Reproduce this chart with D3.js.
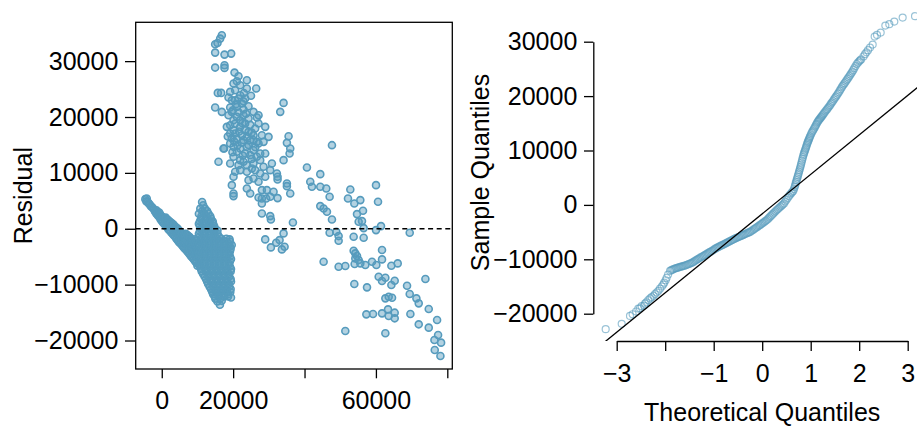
<!DOCTYPE html>
<html><head><meta charset="utf-8">
<script src="https://cdn.jsdelivr.net/npm/d3@7"></script>
<style>
body{margin:0;background:#fff}
svg text{font-family:"Liberation Sans",Arial,Helvetica,sans-serif}
</style></head><body>
<svg id="chart" width="917" height="428"></svg>
<script>
// ---------- DATA ----------
// Residual plot: [fitted value, residual]
const blobPoints = [
[-4600,5300],[-4300,4900],[-4200,5400],[-3600,4500],[-3000,4000],[-2200,3500],[-1500,2700],[-1500,3300],[-700,2100],[-700,2900],
[0,1400],[0,2200],[700,900],[700,1800],[1500,300],[1500,1100],[1500,1700],[2200,-300],[2200,600],[2200,1300],
[3000,-900],[3000,0],[3000,900],[3700,-1400],[3700,-500],[3700,400],[4500,-2100],[4500,-1000],[4500,0],[5200,-2600],
[5200,-1500],[5200,-500],[6000,-3200],[6000,-2200],[6000,-1100],[6700,-3700],[6700,-2700],[6700,-1700],[6700,-900],[7500,-4300],
[7500,-3300],[7500,-2300],[7500,-1300],[8200,-4900],[8200,-3900],[8200,-2900],[8200,-1800],[9000,-5500],[9000,-4500],[9000,-3500],
[9000,-2500],[9700,-6100],[9700,-5100],[9700,-4100],[9700,-3100],[9700,-2100],
[-3900,4800],[-3300,4300],[-2600,3800],[-1900,3100],[-1100,2400],[-1100,3000],[-350,1700],[-350,2500],[350,1100],[350,2000],
[1100,500],[1100,1300],[1100,2000],[1850,-100],[1850,700],[1850,1500],[2600,-600],[2600,300],[2600,1100],[3350,-1150],
[3350,-200],[3350,700],[4100,-1800],[4100,-800],[4100,200],[4850,-2400],[4850,-1300],[4850,-300],[5600,-2900],[5600,-1900],
[5600,-800],[6350,-3500],[6350,-2500],[6350,-1500],[7100,-4000],[7100,-3000],[7100,-2000],[7100,-1100],[7850,-4600],[7850,-3600],
[7850,-2600],[7850,-1500],[8600,-5200],[8600,-4200],[8600,-3200],[8600,-2200],[9350,-5800],[9350,-4800],[9350,-3800],[9350,-2800],
[9350,-1900],[10000,-6600],
[11300,4800],[10800,3600],[12100,3600],[10400,2700],[11800,2700],[13100,2700],[11000,1800],[12400,1800],[13800,1800],
[10400,900],[11800,900],[13200,900],[14400,900],[11000,0],[12500,0],[13900,0],[14900,0],
[10400,-900],[11800,-900],[13200,-900],[14600,-900],[15600,-900],
[11000,-1800],[12500,-1800],[14000,-1800],[15400,-1800],[16700,-1800],[18100,-1800],[19000,-1900],
[10400,-2700],[11800,-2700],[13200,-2700],[14600,-2700],[16000,-2700],[17400,-2700],[18800,-2700],[19600,-2900],
[11000,-3600],[12500,-3600],[14000,-3600],[15400,-3600],[16800,-3600],[18200,-3600],[19300,-3600],
[10400,-4500],[11800,-4500],[13200,-4500],[14600,-4500],[16000,-4500],[17400,-4500],[18800,-4500],
[11000,-5400],[12500,-5400],[14000,-5400],[15400,-5400],[16800,-5400],[18200,-5400],[19400,-5400],
[10400,-6300],[11800,-6300],[13200,-6300],[14600,-6300],[16000,-6300],[17400,-6300],[18800,-6300],
[11000,-7200],[12500,-7200],[14000,-7200],[15400,-7200],[16800,-7200],[18200,-7200],[19400,-7200],
[11600,-8100],[13200,-8100],[14600,-8100],[16000,-8100],[17400,-8100],[18800,-8100],
[12400,-9000],[13800,-9000],[15200,-9000],[16600,-9000],[18000,-9000],[19300,-9000],
[13000,-9900],[14600,-9900],[16000,-9900],[17400,-9900],[18800,-9900],
[13800,-10800],[15200,-10800],[16600,-10800],[18000,-10800],[19300,-10800],
[14400,-11700],[15800,-11700],[17200,-11700],[18600,-11700],
[15000,-12500],[16400,-12500],[19400,-12300],[16300,-13600],
[11600,4200],[11400,3150],[12700,3150],[11100,2250],[12500,2250],[13600,2250],[10700,1350],[12100,1350],[13500,1350],[14300,1300],
[10700,450],[12100,450],[13500,450],[14700,450],[10700,-450],[12100,-450],[13500,-450],[14800,-450],[15600,-300],
[10700,-1350],[12100,-1350],[13500,-1350],[14900,-1350],[16000,-1400],
[10700,-2250],[12100,-2250],[13500,-2250],[14900,-2250],[16300,-2250],[17700,-2250],[19100,-2300],
[10700,-3150],[12100,-3150],[13500,-3150],[14900,-3150],[16300,-3150],[17700,-3150],[19100,-3150],
[10700,-4050],[12100,-4050],[13500,-4050],[14900,-4050],[16300,-4050],[17700,-4050],[19100,-4050],
[10700,-4950],[12100,-4950],[13500,-4950],[14900,-4950],[16300,-4950],[17700,-4950],[19100,-4950],
[10700,-5850],[12100,-5850],[13500,-5850],[14900,-5850],[16300,-5850],[17700,-5850],[19100,-5850],
[10700,-6750],[12100,-6750],[13500,-6750],[14900,-6750],[16300,-6750],[17700,-6750],[19100,-6750],
[11200,-7650],[12500,-7650],[13900,-7650],[15300,-7650],[16700,-7650],[18100,-7650],[19300,-7650],
[12000,-8550],[13300,-8550],[14700,-8550],[16100,-8550],[17500,-8550],[18900,-8550],
[12700,-9450],[14000,-9450],[15400,-9450],[16800,-9450],[18200,-9450],[19400,-9450],
[13400,-10350],[14700,-10350],[16100,-10350],[17500,-10350],[18900,-10350],
[14100,-11250],[15400,-11250],[16800,-11250],[18200,-11250],[19200,-11300],
[14800,-12100],[16000,-12100],[17400,-12100],[18600,-12100],[15600,-13000],[16800,-12900]
];
const upperPoints = [
[16830,34628],[16363,34032],[15615,33257],[14960,33018],[14960,31528],[17578,31171],[19448,31350],[14960,28846],[17578,29264],[17578,28787],
[20383,27952],[21505,27297],[23843,26582],[21038,26403],[20103,25986],[21973,25688],[23843,25092],[26461,25092],[15708,24317],[16643,24317],
[19168,24496],[20570,24794],[21973,23900],[19635,23006],[21505,23304],[23375,23304],[19168,21694],[21038,21814],[22908,21337],[14960,21694],
[16830,20920],[19635,20920],[25713,20920],[27115,20324],[34128,22529],[33193,20920],[18700,20324],[21038,20026],[22908,20324],[26648,19906],
[27115,18834],[28985,18238],[19168,18536],[18233,18238],[20103,17642],[21973,18238],[23375,18834],[24310,17344],[25713,16748],[28050,16748],
[29920,16450],[21038,16152],[22908,15854],[24778,15854],[26648,15556],[28518,15556],[35530,16569],[35063,15377],[35998,14364],[35811,13470],
[47685,14960],[17298,14364],[20103,14662],[21973,14364],[23843,14662],[25713,14066],[27583,13470],[28985,13470],[15895,11980],[19168,11682],
[21973,12278],[22908,11980],[23843,11384],[25713,11682],[27583,12278],[30855,11682],[34128,12278],[40673,10966],[44413,9774],[20570,10192],
[20103,9298],[21973,10490],[23843,10192],[26180,10490],[27583,9894],[28985,9298],[30388,10490],[25713,9000],[32258,9894],[32445,9298],
[32445,8821],[35063,8106],[35063,7629],[41608,8404],[42075,7510],[44413,7510],[46096,7212],[47031,5722],[19635,7808],[20103,6318],
[20103,5841],[23843,7212],[24778,6318],[28050,6914],[29453,6914],[31323,6616],[27115,5602],[28050,5424],[29266,5424],[30388,5722],
[32445,5483],[44413,4053],[45348,3636],[46283,3040],[47685,1669],[28050,4530],[28050,2742],[30388,2265],[30575,1669],[36746,1132],
[35998,6318],[17485,14364],[20570,23006],[22440,22410],[24310,21933],[20103,19430],[21973,19430],[24310,19728],[20570,17046],[22440,16748],
[23843,16450],[25713,15854],[19168,15258],[21038,13768],[23375,13470],[24778,13172],[26648,12874],[20103,12874],[21505,11384],[25245,10788],
[28518,11086],[24310,8702],[27115,8404],[19168,17046],[26180,17940],[27115,15258],
[18700,23500],[20800,22300],[22900,22800],[19900,21200],[21600,20800],[23600,20600],[20500,18800],[22600,18900],[24800,18600],[19600,16200],
[21700,17400],[23300,17700],[25200,17200],[20300,15600],[22400,15400],[24300,15000],[21200,14900],[26200,14600],[22700,13100],[25200,12500],
[19800,13700],[18500,16500],[23000,24300],[25000,23800],
[28985,-1907],[30575,-3338],[32071,-2503],[33006,-2026],[33660,-3695],[34408,-3218],[34128,-834]
];
const rightPoints = [
[52828,7033],[52173,5424],[53950,4530],[55633,5126],[56381,3218],[54698,2622],[55165,1252],[56100,1371],[56568,119],[60027,7808],
[60588,4828],[60027,-238],[61430,477],[69471,-715],[47031,-715],[48901,-536],[49555,-1311],[49555,-2146],[53763,-1430],[56568,-1609],
[53763,-3934],[54230,-4410],[54698,-4887],[54230,-5304],[55165,-5602],[54043,-6318],[61710,-3814],[61710,-5483],[45348,-5900],[49555,-6794],
[51425,-6675],[55633,-6198],[57035,-6496],[58905,-5900],[60121,-6496],[64328,-6616],[66105,-6198],[60775,-8582],[62645,-8761],[61710,-9357],
[64328,-10072],[65263,-9298],[53950,-9894],[57503,-10490],[68723,-10192],[73865,-9000],[69471,-11682],[71341,-12456],[71995,-13350],[62645,-12456],
[63580,-12158],[64515,-12337],[74800,-14364],[57316,-15317],[59186,-15258],[61710,-15138],[63393,-14423],[63580,-15615],[65263,-15019],[65263,-16032],
[69658,-15258],[71995,-17105],[74800,-17701],[77138,-16330],[51425,-18297],[62645,-18714],[77418,-19012],[76390,-19906],[78260,-20383],[76483,-21694],
[78073,-22767]
];
// Normal Q-Q plot: [theoretical quantile, sample quantile]
const qqPoints = [
[-3.227,-22850],[-2.897,-21870],[-2.726,-20400],[-2.671,-20100],[-2.60,-19600],[-2.554,-19050],[-2.52,-19000],[-2.485,-18620],[-2.437,-18500],[-2.416,-18150],
[-2.39,-17900],[-2.348,-17500],[-2.31,-17200],[-2.279,-16950],[-2.24,-16700],[-2.21,-16400],[-2.176,-16100],[-2.14,-15800],[-2.107,-15400],[-2.07,-15000],
[-2.04,-14650],[-2.02,-14300],[-1.99,-13850],[-1.97,-13400],[-1.94,-12800],
[-1.90,-12130],[-1.875,-12000],[-1.85,-11900],[-1.825,-11800],[-1.80,-11700],[-1.775,-11630],[-1.75,-11560],[-1.725,-11500],[-1.70,-11430],[-1.675,-11360],
[-1.65,-11300],[-1.625,-11240],[-1.60,-11180],[-1.575,-11090],[-1.55,-11000],[-1.525,-10910],[-1.50,-10820],[-1.475,-10740],[-1.45,-10650],[-1.425,-10520],
[-1.40,-10380],[-1.375,-10240],[-1.35,-10100],[-1.325,-9960],[-1.30,-9820],[-1.275,-9690],[-1.25,-9560],[-1.225,-9440],[-1.20,-9330],[-1.175,-9190],
[-1.15,-9050],[-1.125,-8910],[-1.10,-8780],[-1.075,-8650],[-1.05,-8520],[-1.025,-8390],[-1.00,-8250],[-0.975,-8100],[-0.95,-7960],[-0.925,-7840],
[-0.90,-7720],[-0.875,-7610],[-0.85,-7500],[-0.825,-7400],[-0.80,-7290],[-0.775,-7170],[-0.75,-7060],[-0.725,-6950],[-0.70,-6830],[-0.675,-6710],
[-0.65,-6600],[-0.625,-6490],[-0.60,-6370],[-0.575,-6260],[-0.55,-6150],[-0.525,-6050],[-0.50,-5960],[-0.475,-5860],[-0.45,-5760],[-0.425,-5660],
[-0.40,-5560],[-0.375,-5460],[-0.35,-5360],[-0.325,-5260],[-0.30,-5160],[-0.275,-5060],[-0.25,-4960],[-0.225,-4810],[-0.20,-4660],[-0.175,-4500],
[-0.15,-4350],[-0.125,-4200],[-0.10,-4040],[-0.075,-3880],[-0.05,-3720],[-0.025,-3560],[0.00,-3400],[0.025,-3240],[0.05,-3080],[0.075,-2920],
[0.10,-2750],[0.125,-2530],[0.15,-2300],[0.175,-2080],[0.20,-1850],[0.225,-1620],[0.25,-1400],[0.275,-1180],[0.30,-960],[0.325,-750],
[0.35,-540],[0.375,-340],[0.40,-150],[0.425,60],[0.45,280],[0.475,620],[0.50,960],[0.525,1280],[0.55,1600],[0.575,1880],
[0.60,2150],[0.62,2360],[0.64,2570],[0.655,2900],[0.67,3300],[0.68,3600],[0.69,3950],[0.70,4250],[0.71,4540],[0.72,4850],
[0.73,5150],[0.74,5450],[0.75,5760],[0.76,6080],[0.77,6400],[0.78,6720],[0.79,7050],[0.80,7400],[0.81,7750],[0.82,8100],
[0.83,8450],[0.84,8800],[0.85,9140],[0.86,9420],[0.87,9700],[0.88,9950],[0.89,10200],[0.90,10480],[0.91,10750],[0.92,11020],
[0.93,11300],[0.94,11530],[0.95,11760],[0.96,11980],[0.97,12200],[0.98,12420],[0.99,12650],[1.005,12940],[1.02,13230],[1.035,13470],
[1.05,13700],[1.065,13950],[1.08,14200],[1.095,14450],[1.11,14700],[1.125,14950],[1.14,15200],[1.155,15400],[1.17,15600],[1.185,15780],
[1.20,15950],[1.215,16130],[1.23,16300],[1.245,16480],[1.26,16670],[1.28,16900],[1.30,17150],[1.32,17380],[1.34,17600],[1.36,17840],
[1.38,18080],[1.40,18340],[1.42,18600],[1.44,18850],[1.46,19100],[1.48,19380],[1.50,19650],[1.52,19900],[1.54,20160],[1.56,20430],
[1.58,20700],[1.60,21000],[1.62,21300],[1.64,21590],[1.66,21880],[1.68,22130],[1.70,22380],[1.72,22640],[1.74,22900],[1.76,23160],
[1.78,23420],[1.80,23680],[1.82,23950],[1.84,24230],[1.86,24500],[1.88,24820],[1.90,25150],[1.925,25520],[1.95,25900],[1.975,26150],
[2.00,26400],[2.02,26580],[2.04,26750],[2.09,27300],[2.12,27699],[2.15,28050],[2.182,28434],[2.223,28925],[2.278,29476],[2.319,30946],
[2.367,31252],[2.443,31681],[2.539,32968],[2.621,33213],[2.724,33703],[2.896,34436],[3.151,34683]
];
const qqLineIntercept = -1646;
const qqLineSlope = 7254;

const residTicks = [-20000,-10000,0,10000,20000,30000];
const fittedTicks = [0,20000,40000,60000,80000];
const fittedTickLabels = ["0","20000","","60000",""];
const qqXTicks = [-3,-2,-1,0,1,2,3];
const qqXTickLabels = ["\u22123","","\u22121","0","1","2","3"];
const qqYTicks = [-20000,-10000,0,10000,20000,30000];

// ---------- DRAW ----------
const svg = d3.select("#chart");
const FONT = 25;
const blue = "#569BBD";
const fmt = d3.format("d");

function styleAxis(g){
  g.attr("font-size", FONT).attr("font-family", '"Liberation Sans",Arial,Helvetica,sans-serif');
  g.selectAll("text").attr("fill", "#000");
  g.selectAll("line").attr("stroke", "#000").attr("stroke-width", 1.3);
  g.selectAll(".domain").attr("stroke", "#000").attr("stroke-width", 1.3);
}

// Left panel: residuals vs fitted
const L = {left:135.7, right:452.3, top:22.3, bottom:369};
const x = d3.scaleLinear().domain([-7300, 81400]).range([L.left, L.right]);
const y = d3.scaleLinear().domain([-25100, 36950]).range([L.bottom, L.top]);

const allPoints = blobPoints.concat(upperPoints, rightPoints);
svg.append("g").selectAll("circle").data(allPoints).join("circle")
  .attr("cx", d => x(d[0])).attr("cy", d => y(d[1])).attr("r", 3.5)
  .attr("fill", blue).attr("fill-opacity", 0.45)
  .attr("stroke", blue).attr("stroke-width", 1.6);

svg.append("line")
  .attr("x1", x.range()[0]).attr("x2", x.range()[1])
  .attr("y1", y(0)).attr("y2", y(0))
  .attr("stroke", "#000").attr("stroke-width", 1.3).attr("stroke-dasharray", "5,3.6");

svg.append("rect").attr("x", L.left).attr("y", L.top)
  .attr("width", L.right - L.left).attr("height", L.bottom - L.top)
  .attr("fill", "none").attr("stroke", "#000").attr("stroke-width", 1.3);

const gLy = svg.append("g").attr("transform", `translate(${L.left},0)`)
  .call(d3.axisLeft(y).tickValues(residTicks).tickFormat(fmt).tickSize(10.7).tickPadding(6.7).tickSizeOuter(0));
gLy.select(".domain").remove();
styleAxis(gLy);

const gLx = svg.append("g").attr("transform", `translate(0,${L.bottom})`)
  .call(d3.axisBottom(x).tickValues(fittedTicks).tickFormat((d,i) => fittedTickLabels[i]).tickSize(9.3).tickPadding(13.2).tickSizeOuter(0));
gLx.select(".domain").remove();
styleAxis(gLx);

svg.append("text").attr("transform", "translate(31.8,195.7) rotate(-90)")
  .attr("text-anchor", "middle").attr("font-size", FONT).attr("fill", "#000").text("Residual");

// Right panel: normal Q-Q plot
const R = {left:593.3, right:930, top:3.5, bottom:341};
const qx = d3.scaleLinear().domain([-3, 3]).range([616.7, 907.7]);
const qy = d3.scaleLinear().domain([-20000, 30000]).range([313.7, 41.7]);

svg.append("clipPath").attr("id", "qqclip").append("rect")
  .attr("x", R.left).attr("y", R.top).attr("width", R.right - R.left).attr("height", R.bottom - R.top);

const gq = svg.append("g").attr("clip-path", "url(#qqclip)");
gq.selectAll("circle").data(qqPoints).join("circle")
  .attr("cx", d => qx(d[0])).attr("cy", d => qy(d[1])).attr("r", 3.5)
  .attr("fill", "none").attr("stroke", blue).attr("stroke-opacity", 0.6).attr("stroke-width", 1.2);

const t0 = qx.invert(R.left), t1 = qx.invert(R.right);
gq.append("line")
  .attr("x1", qx(t0)).attr("y1", qy(qqLineIntercept + qqLineSlope * t0))
  .attr("x2", qx(t1)).attr("y2", qy(qqLineIntercept + qqLineSlope * t1))
  .attr("stroke", "#000").attr("stroke-width", 1.3);

const gRy = svg.append("g").attr("transform", `translate(${R.left},0)`)
  .call(d3.axisLeft(qy).tickValues(qqYTicks).tickFormat(fmt).tickSize(9.3).tickPadding(6.7).tickSizeOuter(0));
styleAxis(gRy);

const gRx = svg.append("g").attr("transform", `translate(0,${R.bottom})`)
  .call(d3.axisBottom(qx).tickValues(qqXTicks).tickFormat((d,i) => qqXTickLabels[i]).tickSize(10).tickPadding(13.3).tickSizeOuter(0));
styleAxis(gRx);

svg.append("text").attr("transform", "translate(488.5,172.5) rotate(-90)")
  .attr("text-anchor", "middle").attr("font-size", FONT).attr("fill", "#000").text("Sample Quantiles");

svg.append("text").attr("x", 762.2).attr("y", 421.2)
  .attr("text-anchor", "middle").attr("font-size", FONT).attr("fill", "#000").text("Theoretical Quantiles");
</script>
</body></html>
